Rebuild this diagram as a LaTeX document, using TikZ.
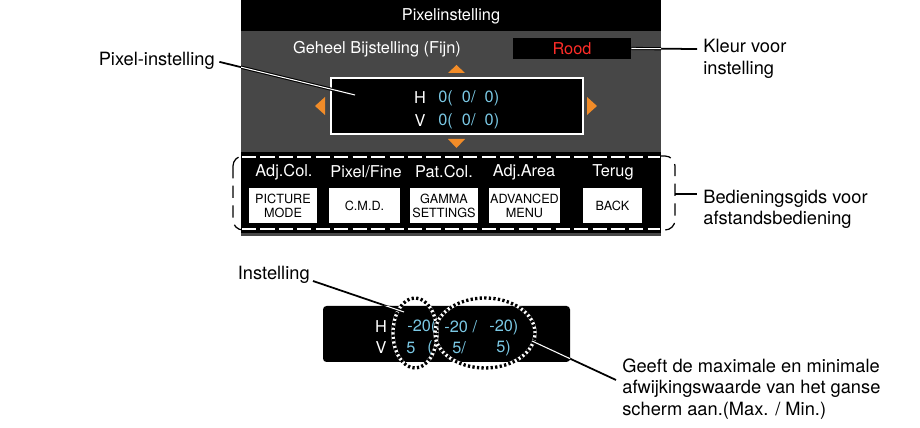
\documentclass[tikz,border=0pt]{standalone}
\usepackage{fontspec}
\setmainfont{TeX Gyre Heros}
\definecolor{panelgray}{RGB}{71,71,71}
\definecolor{valblue}{RGB}{122,200,228}
\definecolor{markorange}{RGB}{242,140,40}
\definecolor{roodred}{RGB}{255,45,40}
\tikzset{
  callout/.style={font=\fontsize{10.4}{12.3}\selectfont, align=left, inner sep=0pt},
  menutext/.style={font=\fontsize{9.3}{11}\selectfont, text=white, inner sep=0pt},
  valtext/.style={font=\fontsize{9.3}{11}\selectfont, text=valblue, inner sep=0pt},
  keybox/.style={fill=white, inner sep=0pt, minimum height=0.7cm, align=center,
    font=\fontsize{7.2}{8}\selectfont},
  leader/.style={line width=1pt},
  leaderdark/.style={line width=1.8pt},
  leaderlight/.style={white, line width=0.6pt},
  ringbase/.style={white, line width=1.9pt},
  ringdots/.style={black, line width=1.9pt, dash pattern=on 1.3pt off 1.3pt}
}
\begin{document}
\begin{tikzpicture}[x=0.02cm, y=-0.02cm]
  \useasboundingbox (0,0) rectangle (920,428);
  % on-screen menu
  \fill[panelgray] (241,0) rectangle (661,236);
  \fill[black] (241,0) rectangle (661,31);
  \node[menutext] (title) at (451,16) {Pixelinstelling};
  \node[menutext] (mode) at (377,49) {Geheel Bijstelling (Fijn)};
  \node[fill=black, minimum width=2.36cm, minimum height=0.42cm, inner sep=0pt,
    font=\fontsize{9.3}{11}\selectfont, text=roodred] (roodbox) at (572,48.5) {Rood};
  \draw[white, line width=0.6pt, fill=black] (331,78) rectangle (583,134);
  \fill[markorange] (448,73) -- (456.5,65) -- (465,73) -- cycle;
  \fill[markorange] (448,139) -- (456.5,148) -- (465,139) -- cycle;
  \fill[markorange] (325,97) -- (315,106) -- (325,115) -- cycle;
  \fill[markorange] (587,97) -- (597,106) -- (587,115) -- cycle;
  \node[menutext] (hname) at (420,98) {H};
  \node[valtext, anchor=west] (hval) at (438,98) {0(\ \ 0/\ \ 0)};
  \node[menutext] (vname) at (420,121) {V};
  \node[valtext, anchor=west] (vval) at (438,121) {0(\ \ 0/\ \ 0)};
  % remote guide band
  \fill[black] (241,152) rectangle (661,233);
  \draw[black, line width=0.7pt, dash pattern=on 10\pgflinewidth off 6\pgflinewidth, rounded corners=0.2cm]
    (233,156) rectangle (675,230);
  \draw[white, line width=0.7pt, dash pattern=on 8pt off 2.5pt] (242,157) -- (660,157);
  \draw[white, line width=0.7pt, dash pattern=on 8pt off 2.5pt] (242,229) -- (660,229);
  \node[menutext] (adjcol) at (284,172) {Adj.Col.};
  \node[menutext] (pixfine) at (366,172) {Pixel/Fine};
  \node[menutext] (patcol) at (444,172) {Pat.Col.};
  \node[menutext] (adjarea) at (524,172) {Adj.Area};
  \node[menutext] (terug) at (613,172) {Terug};
  \node[keybox, minimum width=1.36cm] (picture) at (283,205.5) {PICTURE\\MODE};
  \node[keybox, minimum width=1.42cm] (cmd) at (364.5,205.5) {C.M.D.};
  \node[keybox, minimum width=1.36cm] (gamma) at (444,205.5) {GAMMA\\SETTINGS};
  \node[keybox, minimum width=1.42cm] (advanced) at (524.5,205.5) {ADVANCED\\MENU};
  \node[keybox, minimum width=1.18cm] (back) at (612.5,205.5) {BACK};
  % values readout
  \fill[black, rounded corners=2pt] (323,306) rectangle (570,362);
  \node[menutext] (hrow) at (381,327) {H};
  \node[menutext] (vrow) at (381,348) {V};
  \node[valtext, anchor=west] (hset) at (407,327) {-20(};
  \node[valtext, anchor=west] (hmax) at (444,327) {-20 /};
  \node[valtext, anchor=west] (hmin) at (489,327) {-20)};
  \node[valtext, anchor=west] (vset) at (406,348) {5};
  \node[valtext, anchor=west] (vpar) at (427,348) {(};
  \node[valtext, anchor=west] (vmax) at (452,348) {5/};
  \node[valtext, anchor=west] (vmin) at (496,348) {5)};
  \draw[ringbase] (415,333) ellipse [x radius=22, y radius=35];
  \draw[ringdots] (415,333) ellipse [x radius=22, y radius=35];
  \draw[ringbase] (485,333) ellipse [x radius=50, y radius=35];
  \draw[ringdots] (485,333) ellipse [x radius=50, y radius=35];
  % callouts
  \node[callout, anchor=east] (pixlabel) at (215,61) {Pixel-instelling};
  \node[callout, anchor=west] (kleur) at (703,59) {Kleur voor\\instelling};
  \node[callout, anchor=west] (gids) at (703,209.5) {Bedieningsgids voor\\afstandsbediening};
  \node[callout, anchor=east] (setlabel) at (310,275) {Instelling};
  \node[callout, anchor=west] (range) at (622,389) {Geeft de maximale en minimale\\afwijkingswaarde van het ganse\\scherm aan.(Max. / Min.)};
  \coordinate (pixend) at (355,95);
  \coordinate (kleurtip) at (697,49);
  \coordinate (gidsbrace) at (675,194);
  \coordinate (gidstip) at (697,194);
  \coordinate (setstart) at (313,281);
  \coordinate (setend) at (404,312);
  \coordinate (rangestart) at (532,341);
  \coordinate (rangetip) at (616,380);
  \draw[leader] ([xshift=2.5pt,yshift=-0.5pt]pixlabel.east) -- (pixend);
  \draw[leader] (roodbox.east) -- (kleurtip);
  \draw[leader] (gidsbrace) -- (gidstip);
  \draw[leader] (setstart) -- (setend);
  \draw[leader] (rangestart) -- (rangetip);
  \begin{scope}
    \clip (241,0) rectangle (661,236) (323,306) rectangle (570,362);
    \draw[leaderdark] ([xshift=2.5pt,yshift=-0.5pt]pixlabel.east) -- (pixend);
    \draw[leaderlight] ([xshift=2.5pt,yshift=-0.5pt]pixlabel.east) -- (pixend);
    \draw[leaderdark] (roodbox.east) -- (kleurtip);
    \draw[leaderlight] (roodbox.east) -- (kleurtip);
    \draw[leaderdark] (setstart) -- (setend);
    \draw[leaderlight] (setstart) -- (setend);
    \draw[leaderdark] (rangestart) -- (rangetip);
    \draw[leaderlight] (rangestart) -- (rangetip);
  \end{scope}
\end{tikzpicture}
\end{document}
